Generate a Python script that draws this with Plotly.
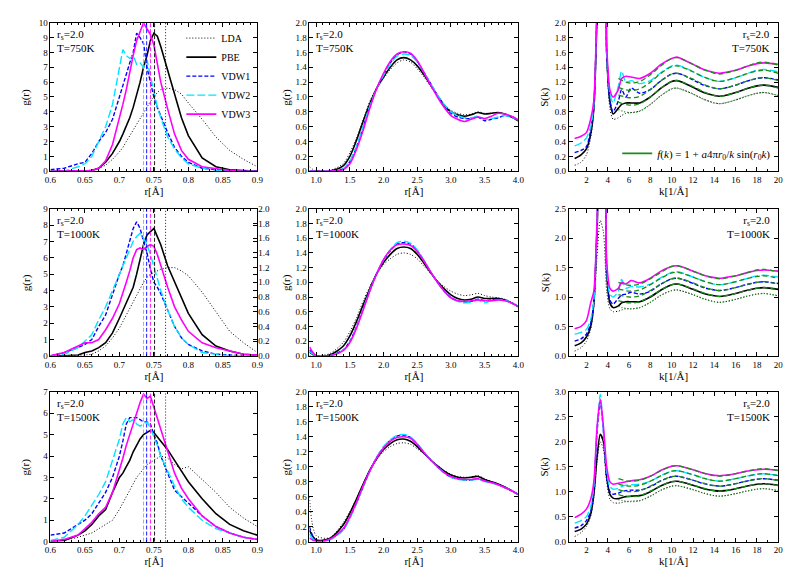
import plotly.graph_objects as go
from plotly.subplots import make_subplots

FUNCS = ['LDA', 'PBE', 'VDW1', 'VDW2', 'VDW3']
COLORS = ['black', 'black', '#0000ff', '#00e5ff', '#ff00ff']
DASHES = ['1px,2px', 'solid', '4px,2px', '8px,3px', 'solid']
WIDTHS = [1.0, 1.6, 1.4, 1.4, 1.6]
TEMPS = ['750K', '1000K', '1500K']

# mean H-H bond length markers (left column)
BOND = [0.767, 0.751, 0.7395, 0.735, 0.745]

# --- left column: g(r) around the H2 bond peak ---
R_SHORT = [0.60, 0.62, 0.64, 0.65, 0.66, 0.67, 0.68, 0.69, 0.70, 0.705, 0.71, 0.715, 0.72, 0.725, 0.73,
           0.735, 0.74, 0.745, 0.75, 0.755, 0.76, 0.77, 0.78, 0.79, 0.80, 0.82, 0.84, 0.86, 0.88, 0.90]
GR_SHORT_750 = [
    [0, 0, 0, 0.02, 0.1, 0.2, 0.4, 0.8, 1.3, 1.6, 2.0, 2.4, 2.8, 3.2, 3.6, 4.0, 4.3, 4.7, 5.0, 5.3, 5.5, 5.6, 5.5, 5.2, 4.6, 3.5, 2.3, 1.4, 0.8, 0.3],
    [0, 0, 0, 0, 0.05, 0.2, 0.6, 1.2, 2.0, 2.5, 3.0, 3.6, 4.3, 5.1, 6.0, 7.0, 7.8, 8.8, 9.3, 9.1, 8.4, 6.8, 5.2, 3.6, 2.4, 0.9, 0.3, 0.1, 0.05, 0],
    [0.1, 0.2, 0.5, 0.6, 1.2, 2.0, 2.6, 3.5, 5.0, 5.8, 6.5, 7.3, 8.0, 9.3, 9.0, 8.6, 7.0, 6.0, 5.0, 4.3, 3.7, 2.6, 1.6, 1.0, 0.6, 0.2, 0.1, 0, 0, 0],
    [0, 0, 0.3, 0.5, 1.0, 2.0, 3.0, 4.5, 7.0, 8.2, 7.8, 7.6, 7.8, 7.2, 7.3, 7.0, 7.5, 6.5, 5.5, 4.3, 3.6, 2.3, 1.5, 0.9, 0.5, 0.2, 0.05, 0, 0, 0],
    [0, 0, 0, 0, 0.05, 0.2, 0.7, 1.8, 3.5, 4.5, 5.5, 6.7, 7.8, 8.8, 9.4, 10.0, 9.6, 9.2, 8.5, 7.3, 6.0, 4.2, 2.5, 1.4, 0.8, 0.3, 0.15, 0.05, 0, 0],
]
GR_SHORT_1000 = [
    [0, 0, 0.02, 0.05, 0.1, 0.3, 0.6, 1.1, 1.7, 2.1, 2.5, 2.9, 3.3, 3.7, 4.1, 4.5, 4.8, 5.0, 5.1, 5.2, 5.3, 5.4, 5.4, 5.2, 4.9, 3.9, 2.7, 1.5, 0.8, 0.2],
    [0, 0, 0.05, 0.2, 0.3, 0.5, 0.8, 1.4, 2.3, 2.8, 3.3, 3.7, 4.2, 5.0, 6.0, 6.8, 7.4, 7.6, 7.8, 7.3, 6.8, 5.5, 4.5, 3.5, 2.6, 1.3, 0.6, 0.3, 0.1, 0.05],
    [0, 0.2, 0.5, 0.7, 1.0, 1.8, 2.5, 3.8, 5.0, 5.5, 6.3, 7.0, 7.8, 8.2, 7.8, 7.0, 6.3, 5.3, 4.5, 4.2, 3.8, 2.8, 1.8, 1.1, 0.7, 0.3, 0.1, 0.05, 0, 0],
    [0, 0.1, 0.5, 0.9, 1.3, 2.2, 3.0, 4.0, 5.0, 5.6, 6.0, 6.6, 7.0, 7.3, 7.5, 7.2, 6.8, 6.2, 5.5, 4.8, 4.0, 2.8, 1.8, 1.1, 0.7, 0.2, 0.1, 0, 0, 0],
    [0, 0.2, 0.6, 0.8, 0.8, 1.0, 1.6, 2.3, 3.2, 3.8, 4.5, 5.2, 6.0, 6.5, 6.6, 6.5, 6.7, 6.8, 6.7, 6.2, 5.5, 4.2, 3.0, 2.2, 1.5, 0.8, 0.5, 0.3, 0.1, 0.05],
]
GR_SHORT_1500 = [
    [0, 0.05, 0.2, 0.3, 0.4, 0.6, 0.8, 1.0, 1.5, 1.8, 2.1, 2.4, 2.7, 3.0, 3.2, 3.4, 3.6, 3.7, 3.8, 3.9, 4.0, 3.9, 3.6, 3.4, 3.5, 2.9, 2.3, 1.6, 1.1, 0.7],
    [0, 0.05, 0.3, 0.5, 0.8, 1.2, 1.5, 2.3, 3.0, 3.2, 3.5, 3.8, 4.2, 4.5, 4.8, 5.0, 5.1, 5.2, 5.1, 4.9, 4.7, 4.3, 3.8, 3.3, 2.8, 2.0, 1.3, 0.8, 0.5, 0.3],
    [0.3, 0.4, 0.8, 1.0, 1.3, 1.8, 2.3, 3.0, 4.0, 4.7, 5.5, 5.8, 5.8, 5.8, 5.7, 5.6, 5.6, 5.5, 5.0, 4.6, 4.0, 3.2, 2.4, 2.1, 1.8, 1.2, 0.7, 0.4, 0.2, 0.1],
    [0.05, 0.2, 0.8, 1.2, 1.7, 2.2, 2.8, 3.8, 4.8, 5.5, 5.8, 5.6, 5.7, 5.5, 5.4, 5.5, 5.6, 5.3, 4.9, 4.5, 4.0, 3.3, 2.6, 2.0, 1.6, 1.0, 0.6, 0.4, 0.2, 0.1],
    [0, 0.1, 0.3, 0.6, 0.9, 1.3, 1.6, 2.3, 3.3, 3.9, 4.5, 5.0, 5.6, 6.1, 6.5, 6.9, 6.7, 6.8, 6.3, 5.8, 5.2, 4.2, 3.2, 2.5, 2.0, 1.2, 0.7, 0.4, 0.2, 0.1],
]

# --- middle column: g(r) over 0.9-4.0 A ---
R_LONG = [0.9, 1.0, 1.2, 1.4, 1.5, 1.6, 1.7, 1.8, 1.9, 2.0, 2.1, 2.2, 2.3, 2.4, 2.5,
          2.6, 2.7, 2.8, 2.9, 3.0, 3.1, 3.2, 3.3, 3.4, 3.5, 3.6, 3.7, 3.8, 3.9, 4.0]
GR_LONG_750 = [
    [0.06, 0.0, 0.01, 0.10, 0.25, 0.45, 0.70, 0.95, 1.12, 1.25, 1.37, 1.46, 1.50, 1.47, 1.38, 1.27, 1.14, 1.02, 0.90, 0.82, 0.78, 0.76, 0.77, 0.80, 0.78, 0.78, 0.79, 0.77, 0.74, 0.69],
    [0.0, 0.0, 0.0, 0.07, 0.20, 0.42, 0.68, 0.92, 1.12, 1.27, 1.40, 1.50, 1.53, 1.50, 1.42, 1.30, 1.16, 1.02, 0.89, 0.80, 0.76, 0.74, 0.76, 0.79, 0.77, 0.78, 0.79, 0.77, 0.73, 0.68],
    [0.0, 0.0, 0.0, 0.03, 0.13, 0.33, 0.60, 0.88, 1.12, 1.30, 1.46, 1.57, 1.61, 1.58, 1.48, 1.33, 1.18, 1.02, 0.88, 0.78, 0.73, 0.71, 0.71, 0.73, 0.68, 0.70, 0.72, 0.75, 0.73, 0.69],
    [0.0, 0.0, 0.0, 0.03, 0.14, 0.34, 0.61, 0.89, 1.12, 1.29, 1.44, 1.55, 1.58, 1.56, 1.47, 1.33, 1.18, 1.03, 0.90, 0.80, 0.75, 0.72, 0.72, 0.74, 0.70, 0.71, 0.73, 0.75, 0.73, 0.69],
    [0.0, 0.0, 0.0, 0.02, 0.10, 0.30, 0.56, 0.86, 1.12, 1.32, 1.48, 1.58, 1.61, 1.59, 1.49, 1.33, 1.16, 1.00, 0.86, 0.75, 0.70, 0.67, 0.70, 0.73, 0.71, 0.74, 0.78, 0.77, 0.74, 0.69],
]
GR_LONG_1000 = [
    [0.0, 0.0, 0.03, 0.18, 0.33, 0.52, 0.75, 0.95, 1.12, 1.24, 1.32, 1.38, 1.40, 1.38, 1.32, 1.22, 1.12, 1.02, 0.94, 0.88, 0.84, 0.82, 0.83, 0.85, 0.82, 0.80, 0.79, 0.77, 0.73, 0.68],
    [0.05, 0.0, 0.01, 0.13, 0.27, 0.47, 0.70, 0.92, 1.12, 1.27, 1.38, 1.46, 1.48, 1.46, 1.38, 1.26, 1.13, 1.01, 0.91, 0.83, 0.78, 0.76, 0.77, 0.80, 0.78, 0.78, 0.78, 0.76, 0.72, 0.67],
    [0.08, 0.0, 0.0, 0.08, 0.20, 0.40, 0.65, 0.90, 1.12, 1.30, 1.43, 1.52, 1.54, 1.52, 1.43, 1.29, 1.14, 1.00, 0.88, 0.79, 0.75, 0.73, 0.74, 0.77, 0.75, 0.76, 0.77, 0.76, 0.72, 0.67],
    [0.06, 0.0, 0.0, 0.08, 0.19, 0.39, 0.64, 0.90, 1.12, 1.30, 1.44, 1.54, 1.56, 1.53, 1.44, 1.30, 1.14, 1.00, 0.88, 0.79, 0.74, 0.72, 0.73, 0.76, 0.72, 0.75, 0.76, 0.76, 0.72, 0.67],
    [0.12, 0.0, 0.0, 0.07, 0.18, 0.38, 0.63, 0.89, 1.12, 1.31, 1.44, 1.51, 1.52, 1.50, 1.42, 1.29, 1.14, 1.00, 0.88, 0.79, 0.75, 0.74, 0.75, 0.76, 0.75, 0.75, 0.76, 0.75, 0.72, 0.67],
]
GR_LONG_1500 = [
    [0.60, 0.08, 0.05, 0.25, 0.40, 0.58, 0.78, 0.96, 1.10, 1.20, 1.27, 1.31, 1.32, 1.30, 1.24, 1.17, 1.09, 1.02, 0.95, 0.90, 0.87, 0.86, 0.86, 0.88, 0.84, 0.80, 0.77, 0.73, 0.68, 0.63],
    [0.15, 0.02, 0.04, 0.22, 0.38, 0.57, 0.77, 0.96, 1.11, 1.23, 1.31, 1.36, 1.37, 1.34, 1.27, 1.18, 1.09, 1.01, 0.94, 0.89, 0.86, 0.85, 0.86, 0.87, 0.83, 0.80, 0.77, 0.73, 0.68, 0.63],
    [0.20, 0.0, 0.03, 0.16, 0.32, 0.52, 0.74, 0.95, 1.13, 1.26, 1.35, 1.41, 1.42, 1.39, 1.30, 1.19, 1.09, 1.00, 0.92, 0.86, 0.84, 0.82, 0.82, 0.84, 0.81, 0.79, 0.76, 0.72, 0.68, 0.63],
    [0.10, 0.0, 0.02, 0.15, 0.31, 0.51, 0.74, 0.95, 1.13, 1.27, 1.36, 1.42, 1.43, 1.40, 1.31, 1.20, 1.09, 1.00, 0.92, 0.86, 0.83, 0.82, 0.82, 0.83, 0.80, 0.78, 0.76, 0.72, 0.68, 0.63],
    [0.05, 0.0, 0.03, 0.17, 0.33, 0.53, 0.75, 0.95, 1.12, 1.25, 1.34, 1.39, 1.40, 1.38, 1.30, 1.19, 1.09, 1.00, 0.92, 0.87, 0.84, 0.83, 0.83, 0.84, 0.81, 0.79, 0.76, 0.72, 0.68, 0.63],
]

# --- right column: S(k), curves shifted by 0.1 each ---
K = [0.9, 1.5, 2.0, 2.4, 2.7, 3.0, 3.3, 3.6, 3.9, 4.2, 4.5, 5.0, 5.3, 5.7, 6.2, 7, 8, 9, 10, 10.5,
     11, 12, 13, 14, 14.5, 15, 16, 17, 18, 18.7, 20]
SK_750 = [
    [0.08, 0.12, 0.22, 0.45, 0.85, 2.1, 3.5, 3.5, 1.5, 0.85, 0.70, 0.72, 0.75, 0.78, 0.79, 0.81, 0.90, 1.02, 1.11, 1.12, 1.10, 1.04, 0.97, 0.92, 0.91, 0.92, 0.96, 1.01, 1.05, 1.06, 1.02],
    [0.17, 0.22, 0.30, 0.50, 0.85, 2.1, 3.5, 3.5, 1.6, 0.95, 0.77, 0.85, 0.90, 0.92, 0.92, 0.92, 1.00, 1.12, 1.21, 1.22, 1.20, 1.13, 1.06, 1.02, 1.01, 1.02, 1.06, 1.11, 1.15, 1.16, 1.13],
    [0.25, 0.28, 0.33, 0.55, 0.87, 2.2, 3.5, 3.5, 1.6, 0.95, 0.80, 0.95, 1.10, 1.00, 1.12, 1.05, 1.10, 1.22, 1.31, 1.32, 1.30, 1.23, 1.16, 1.12, 1.11, 1.12, 1.16, 1.21, 1.25, 1.26, 1.23],
    [0.34, 0.38, 0.45, 0.60, 0.90, 2.2, 3.5, 3.5, 1.6, 1.05, 0.92, 1.15, 1.35, 1.20, 1.22, 1.18, 1.22, 1.33, 1.42, 1.43, 1.41, 1.34, 1.27, 1.22, 1.21, 1.22, 1.26, 1.31, 1.36, 1.37, 1.34],
    [0.44, 0.47, 0.52, 0.70, 0.95, 2.3, 3.5, 3.5, 1.7, 1.10, 1.00, 1.10, 1.25, 1.28, 1.27, 1.25, 1.32, 1.44, 1.52, 1.54, 1.51, 1.44, 1.37, 1.33, 1.32, 1.33, 1.36, 1.41, 1.45, 1.46, 1.44],
]
SK_1000 = [
    [0.08, 0.14, 0.25, 0.45, 0.85, 1.7, 2.3, 2.1, 1.1, 0.80, 0.75, 0.76, 0.78, 0.80, 0.80, 0.82, 0.91, 1.03, 1.11, 1.12, 1.10, 1.04, 0.97, 0.92, 0.91, 0.92, 0.96, 1.01, 1.05, 1.06, 1.02],
    [0.17, 0.22, 0.32, 0.50, 0.90, 2.1, 3.2, 3.2, 1.4, 0.90, 0.82, 0.85, 0.90, 0.92, 0.92, 0.92, 1.00, 1.12, 1.21, 1.22, 1.20, 1.13, 1.06, 1.02, 1.01, 1.02, 1.06, 1.11, 1.15, 1.16, 1.13],
    [0.25, 0.29, 0.37, 0.55, 0.92, 2.2, 3.3, 3.3, 1.5, 0.95, 0.88, 0.98, 1.03, 1.05, 1.08, 1.05, 1.10, 1.22, 1.31, 1.32, 1.30, 1.23, 1.16, 1.12, 1.11, 1.12, 1.16, 1.21, 1.25, 1.26, 1.23],
    [0.37, 0.40, 0.45, 0.62, 0.95, 2.2, 3.3, 3.3, 1.5, 1.05, 1.00, 1.10, 1.30, 1.15, 1.18, 1.17, 1.22, 1.33, 1.42, 1.43, 1.41, 1.34, 1.27, 1.22, 1.21, 1.22, 1.26, 1.31, 1.36, 1.37, 1.34],
    [0.46, 0.50, 0.60, 0.90, 1.10, 2.3, 3.3, 3.3, 1.6, 1.15, 1.10, 1.15, 1.25, 1.22, 1.28, 1.24, 1.32, 1.44, 1.52, 1.53, 1.51, 1.44, 1.37, 1.33, 1.32, 1.33, 1.36, 1.41, 1.45, 1.46, 1.44],
]
SK_1500 = [
    [0.10, 0.18, 0.30, 0.50, 0.90, 1.60, 2.00, 1.85, 1.20, 0.85, 0.78, 0.77, 0.78, 0.80, 0.81, 0.82, 0.91, 1.03, 1.11, 1.12, 1.10, 1.04, 0.97, 0.92, 0.91, 0.92, 0.96, 1.01, 1.05, 1.06, 1.02],
    [0.20, 0.25, 0.35, 0.55, 0.95, 1.70, 2.15, 2.00, 1.30, 0.95, 0.87, 0.86, 0.88, 0.90, 0.91, 0.92, 1.00, 1.12, 1.20, 1.21, 1.19, 1.13, 1.06, 1.02, 1.01, 1.02, 1.06, 1.11, 1.15, 1.16, 1.13],
    [0.27, 0.32, 0.42, 0.60, 1.05, 2.20, 2.80, 2.20, 1.30, 1.00, 0.95, 0.97, 1.00, 1.02, 1.03, 1.03, 1.10, 1.22, 1.30, 1.31, 1.29, 1.23, 1.16, 1.12, 1.11, 1.12, 1.16, 1.21, 1.25, 1.26, 1.23],
    [0.37, 0.42, 0.50, 0.70, 1.10, 2.30, 2.95, 2.20, 1.40, 1.10, 1.05, 1.07, 1.10, 1.13, 1.14, 1.15, 1.21, 1.32, 1.41, 1.42, 1.40, 1.34, 1.27, 1.22, 1.21, 1.22, 1.26, 1.31, 1.35, 1.36, 1.33],
    [0.48, 0.55, 0.65, 0.85, 1.20, 2.30, 2.85, 2.30, 1.50, 1.20, 1.15, 1.17, 1.18, 1.20, 1.22, 1.24, 1.31, 1.43, 1.51, 1.52, 1.50, 1.44, 1.37, 1.33, 1.32, 1.33, 1.36, 1.41, 1.44, 1.45, 1.43],
]

# fitted f(k) = 1 + a 4pi r0/k sin(r0 k)
FIT_K = [5, 6, 7, 8, 9, 10, 10.5, 11, 12, 13, 14, 14.5, 15, 16, 17, 18, 18.7, 20]
FIT_750 = [
    [0.83, 0.79, 0.81, 0.90, 1.02, 1.11, 1.12, 1.10, 1.04, 0.97, 0.92, 0.91, 0.92, 0.96, 1.01, 1.05, 1.06, 1.02],
    [0.93, 0.89, 0.91, 1.00, 1.12, 1.21, 1.22, 1.20, 1.14, 1.07, 1.02, 1.01, 1.02, 1.06, 1.11, 1.15, 1.16, 1.12],
    [1.03, 0.99, 1.01, 1.10, 1.22, 1.31, 1.32, 1.30, 1.24, 1.17, 1.12, 1.11, 1.12, 1.16, 1.21, 1.25, 1.26, 1.22],
    [1.13, 1.09, 1.11, 1.20, 1.32, 1.41, 1.42, 1.40, 1.34, 1.27, 1.22, 1.21, 1.22, 1.26, 1.31, 1.35, 1.36, 1.32],
    [1.25, 1.19, 1.21, 1.30, 1.42, 1.52, 1.53, 1.51, 1.44, 1.37, 1.32, 1.31, 1.32, 1.36, 1.41, 1.46, 1.47, 1.43],
]
FIT_1000 = [
    [0.84, 0.80, 0.82, 0.91, 1.03, 1.11, 1.12, 1.10, 1.04, 0.97, 0.92, 0.91, 0.92, 0.96, 1.01, 1.05, 1.06, 1.02],
    [0.94, 0.90, 0.92, 1.01, 1.12, 1.21, 1.22, 1.20, 1.14, 1.07, 1.02, 1.01, 1.02, 1.06, 1.11, 1.15, 1.16, 1.12],
    [1.04, 1.00, 1.02, 1.11, 1.22, 1.31, 1.32, 1.30, 1.24, 1.17, 1.12, 1.11, 1.12, 1.16, 1.21, 1.25, 1.26, 1.22],
    [1.14, 1.10, 1.12, 1.21, 1.32, 1.41, 1.42, 1.40, 1.34, 1.27, 1.22, 1.21, 1.22, 1.26, 1.31, 1.35, 1.36, 1.32],
    [1.25, 1.20, 1.22, 1.31, 1.42, 1.52, 1.53, 1.51, 1.44, 1.37, 1.32, 1.31, 1.32, 1.36, 1.41, 1.46, 1.47, 1.43],
]
FIT_1500 = [
    [0.84, 0.80, 0.82, 0.91, 1.03, 1.11, 1.12, 1.10, 1.04, 0.97, 0.92, 0.91, 0.92, 0.96, 1.01, 1.05, 1.06, 1.02],
    [0.94, 0.90, 0.92, 1.01, 1.12, 1.20, 1.21, 1.19, 1.13, 1.07, 1.02, 1.01, 1.02, 1.06, 1.11, 1.15, 1.16, 1.12],
    [1.04, 1.00, 1.02, 1.11, 1.22, 1.30, 1.31, 1.29, 1.23, 1.17, 1.12, 1.11, 1.12, 1.16, 1.21, 1.25, 1.26, 1.22],
    [1.15, 1.11, 1.13, 1.21, 1.32, 1.41, 1.42, 1.40, 1.34, 1.27, 1.22, 1.21, 1.22, 1.26, 1.31, 1.35, 1.36, 1.32],
    [1.26, 1.21, 1.23, 1.31, 1.42, 1.51, 1.52, 1.50, 1.44, 1.37, 1.32, 1.31, 1.32, 1.36, 1.41, 1.45, 1.46, 1.42],
]

GR_SHORT = [GR_SHORT_750, GR_SHORT_1000, GR_SHORT_1500]
GR_LONG = [GR_LONG_750, GR_LONG_1000, GR_LONG_1500]
SK = [SK_750, SK_1000, SK_1500]
FITS = [FIT_750, FIT_1000, FIT_1500]
LEFT_YMAX = [10, 9, 7]
RIGHT_YMAX = [2.0, 2.5, 3.0]
RIGHT_DTICK = [0.2, 0.5, 0.5]
Y_TITLES = ['g(r)', 'g(r)', 'S(k)']

FONT = 'Liberation Serif'
FIT_GREEN = '#1a8c1a'

fig = make_subplots(rows=3, cols=3)

for r in range(3):
    row = r + 1
    for i, name in enumerate(FUNCS):
        line = dict(color=COLORS[i], dash=DASHES[i], width=WIDTHS[i])
        fig.add_trace(go.Scatter(x=R_SHORT, y=GR_SHORT[r][i], mode='lines', name=name, line=line,
                                 showlegend=(r == 0), legendgroup=name), row=row, col=1)
        fig.add_trace(go.Scatter(x=R_LONG, y=GR_LONG[r][i], mode='lines', name=name,
                                 line=dict(line, shape='spline', smoothing=0.8),
                                 showlegend=False, legendgroup=name), row=row, col=2)
        fig.add_trace(go.Scatter(x=K, y=SK[r][i], mode='lines', name=name,
                                 line=dict(line, shape='spline', smoothing=0.7),
                                 showlegend=False, legendgroup=name), row=row, col=3)
    for i, name in enumerate(FUNCS):
        fig.add_trace(go.Scatter(x=FIT_K, y=FITS[r][i], mode='lines', showlegend=False,
                                 line=dict(color=FIT_GREEN, width=1.3, shape='spline', smoothing=1.0,
                                           dash='1px,2px' if i == 0 else '5px,3px')),
                      row=row, col=3)
        fig.add_vline(x=BOND[i], row=row, col=1,
                      line=dict(color=COLORS[i], width=0.9, dash='1px,2px' if i == 0 else '4px,2px'))

# legend entry for the fit function
fig.add_trace(go.Scatter(x=[None], y=[None], mode='lines', legend='legend2',
                         line=dict(color=FIT_GREEN, width=1.6),
                         name='<i>f</i>(<i>k</i>) = 1 + <i>a</i>4π<i>r</i><sub>0</sub>/<i>k</i> sin(<i>r</i><sub>0</sub><i>k</i>)'),
              row=1, col=3)

# extra right-hand axis drawn on the 1000K bond-peak panel
fig.add_trace(go.Scatter(x=[None], y=[None], mode='lines', showlegend=False,
                         xaxis='x4', yaxis='y10'))

XDOM = [[0.0467, 0.3115], [0.3783, 0.6457], [0.7104, 0.9786]]
YDOM = [[0.7160, 0.9824], [0.3845, 0.6485], [0.0511, 0.3197]]
YTITLE_X = [12, 277, 539]   # pixel centre of the rotated y titles

axis_common = dict(showline=True, linecolor='black', linewidth=1, mirror='ticks', ticks='inside',
                   ticklen=4, tickcolor='black', showgrid=False, zeroline=False,
                   tickfont=dict(family=FONT, size=9, color='black'),
                   title_font=dict(family=FONT, size=11, color='black'))

for r in range(3):
    for c in range(3):
        n = r * 3 + c + 1
        xa = 'xaxis' if n == 1 else f'xaxis{n}'
        ya = 'yaxis' if n == 1 else f'yaxis{n}'
        if c == 0:
            xs = dict(range=[0.6, 0.9], dtick=0.05, tickformat='~g', title_text='r[Å]',
                      minor=dict(dtick=0.01, ticks='inside', ticklen=2, tickcolor='black'))
            ys = dict(range=[0, LEFT_YMAX[r]], dtick=1)
        elif c == 1:
            xs = dict(range=[0.9, 4.0], dtick=0.5, tick0=1.0, tickformat='.1f', title_text='r[Å]',
                      minor=dict(dtick=0.1, ticks='inside', ticklen=2, tickcolor='black'))
            ys = dict(range=[0, 2.0], dtick=0.2, tickformat='.1f')
        else:
            xs = dict(range=[0.35, 20], dtick=2, tick0=0, title_text='k[1/Å]',
                      minor=dict(dtick=1, ticks='inside', ticklen=2, tickcolor='black'))
            ys = dict(range=[0, RIGHT_YMAX[r]], dtick=RIGHT_DTICK[r], tickformat='.1f')
        fig.layout[xa].update(domain=XDOM[c], title_standoff=0, **axis_common, **xs)
        fig.layout[ya].update(domain=YDOM[r], **axis_common, **ys)
        # y-axis title placed as rotated text beside the tick labels
        fig.add_annotation(text=Y_TITLES[c], xref='paper', yref='paper',
                           x=YTITLE_X[c] / 793, y=sum(YDOM[r]) / 2, textangle=-90,
                           xanchor='center', yanchor='middle', showarrow=False,
                           font=dict(family=FONT, size=11, color='black'))

fig.update_layout(yaxis10=dict(overlaying='y4', anchor='x4', side='right', range=[0, 2.0], dtick=0.2,
                               tickformat='.1f', ticks='inside', ticklen=4, tickcolor='black',
                               showgrid=False, zeroline=False, showline=False,
                               tickfont=dict(family=FONT, size=9, color='black')))

labels = [f'r<sub>s</sub>=2.0<br>T={t}' for t in TEMPS]
for r in range(3):
    n = r * 3
    for c in range(3):
        k = n + c + 1
        xr = 'x domain' if k == 1 else f'x{k} domain'
        yr = 'y domain' if k == 1 else f'y{k} domain'
        right = c == 2
        fig.add_annotation(text=labels[r], xref=xr, yref=yr, x=0.97 if right else 0.02, y=0.98,
                           xanchor='right' if right else 'left', yanchor='top', showarrow=False,
                           align='right' if right else 'left',
                           font=dict(family=FONT, size=11, color='black'))

fig.update_layout(
    width=793, height=567, margin=dict(l=0, r=0, t=0, b=0),
    paper_bgcolor='white', plot_bgcolor='white',
    font=dict(family=FONT, size=10, color='black'),
    legend=dict(x=0.309, y=0.981, xanchor='right', yanchor='top', bgcolor='rgba(0,0,0,0)',
                font=dict(family=FONT, size=10), tracegroupgap=0, itemwidth=30),
    legend2=dict(x=0.976, y=0.722, xanchor='right', yanchor='bottom', bgcolor='rgba(0,0,0,0)',
                 font=dict(family=FONT, size=11), itemwidth=30),
)

fig.write_html('out.html')
